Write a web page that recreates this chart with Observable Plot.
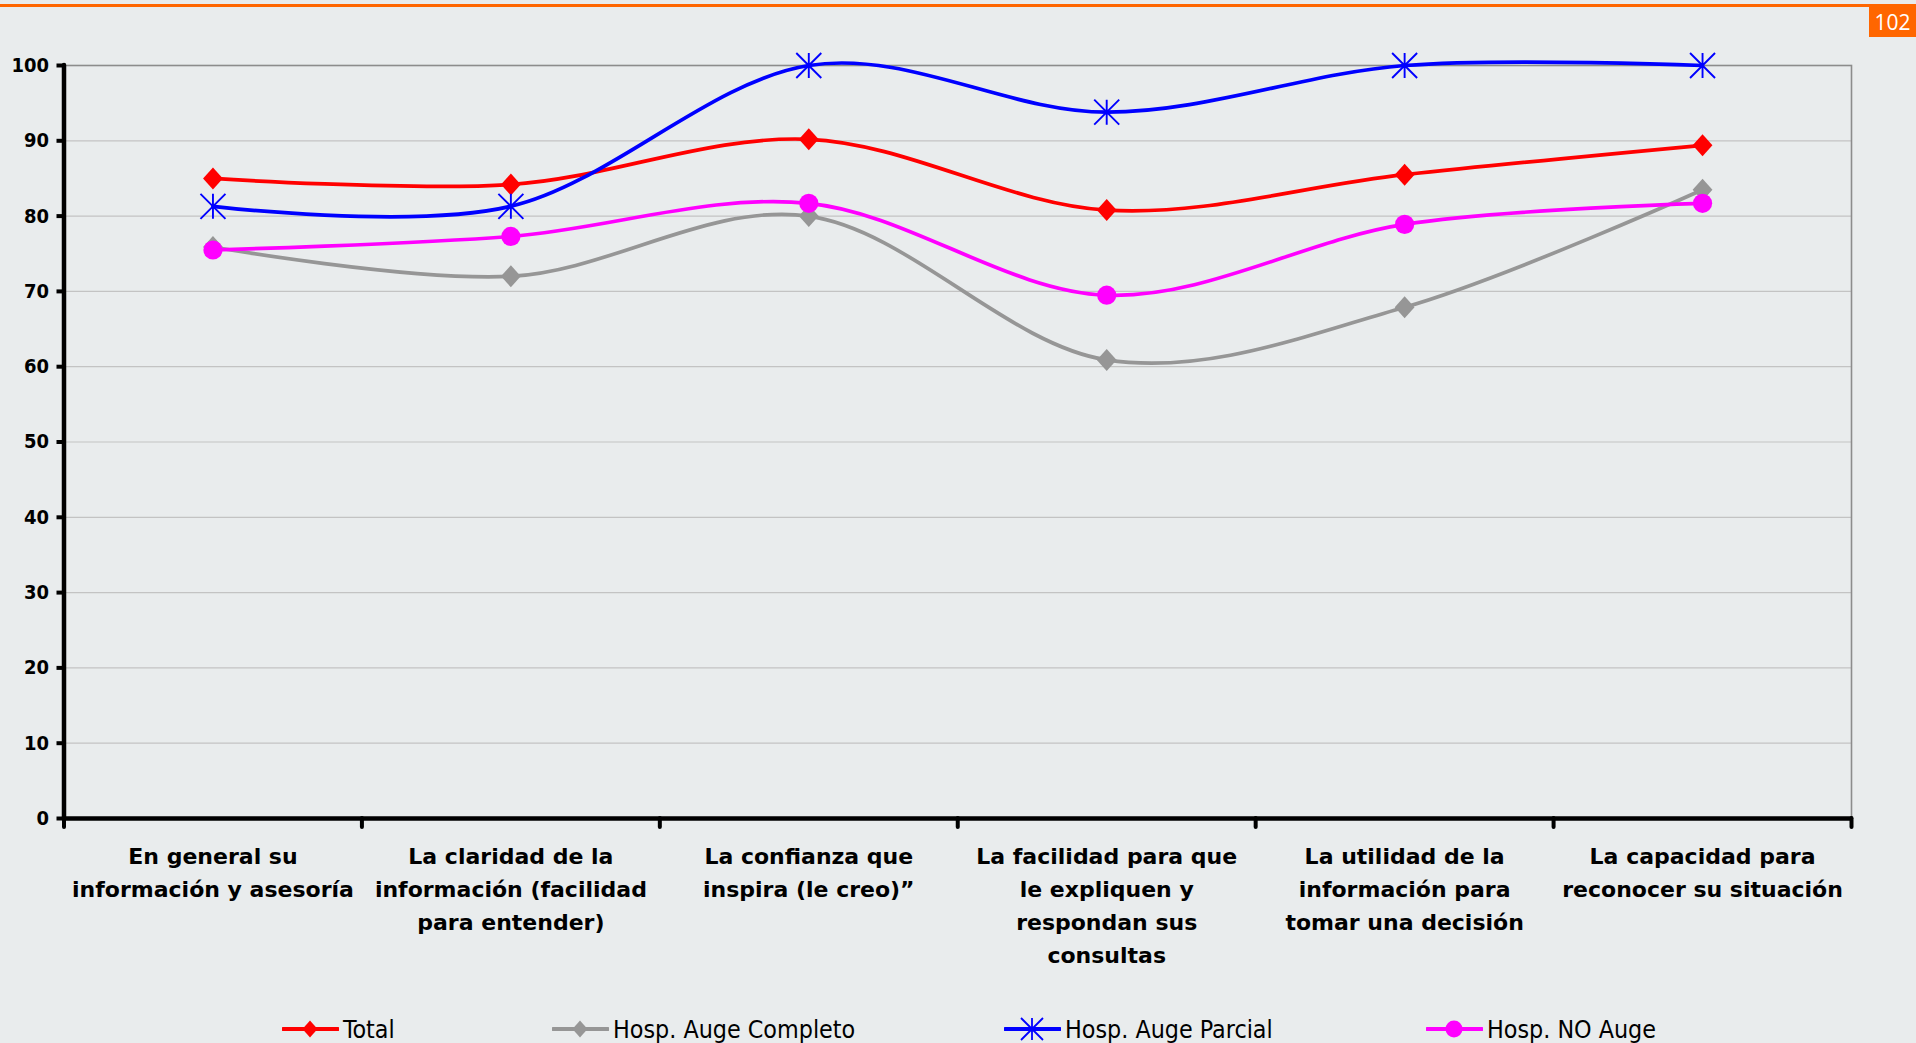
<!DOCTYPE html>
<html>
<head>
<meta charset="utf-8">
<script src="https://cdn.jsdelivr.net/npm/d3@7"></script>
<script src="https://cdn.jsdelivr.net/npm/@observablehq/plot@0.6"></script>
<style>
html, body { margin: 0; padding: 0; background: #e9eced; width: 1916px; height: 1043px; overflow: hidden; position: relative; font-family: "DejaVu Sans", sans-serif; }
#topbar { position: absolute; left: 0; top: 4px; width: 1916px; height: 3px; background: #ff6600; }
#page { position: absolute; left: 1869px; top: 7px; width: 47px; height: 30px; background: #ff6600; color: #fff; font: 21px "Open Sans", sans-serif; line-height: 30px; text-align: center; }
#chart { position: absolute; left: 0; top: 0; }
#legend { position: absolute; left: 0; top: 1014px; width: 1916px; height: 30px; }
.item { position: absolute; top: 0; display: flex; align-items: center; height: 30px; font: 24.8px "DejaVu Sans Condensed", "DejaVu Sans", sans-serif; color: #000; white-space: nowrap; }
.item svg { margin-right: 4px; flex: none; }
</style>
</head>
<body>
<div id="topbar"></div>
<div id="page">102</div>
<div id="chart"></div>
<div id="legend"></div>
<script>
// ---- data ----
const categories = [
  "En general su\ninformación y asesoría",
  "La claridad de la\ninformación (facilidad\npara entender)",
  "La confianza que\ninspira (le creo)”",
  "La facilidad para que\nle expliquen y\nrespondan sus\nconsultas",
  "La utilidad de la\ninformación para\ntomar una decisión",
  "La capacidad para\nreconocer su situación"
];
const seriesNames = ["Total", "Hosp. Auge Completo", "Hosp. Auge Parcial", "Hosp. NO Auge"];
const total        = [85.0, 84.2, 90.2, 80.8, 85.5, 89.4];
const augeCompleto = [75.9, 72.0, 80.0, 60.9, 67.9, 83.5];
const augeParcial  = [81.3, 81.3, 100.0, 93.8, 100.0, 100.0];
const noAuge       = [75.5, 77.3, 81.7, 69.5, 78.9, 81.7];
const yTicks = [0, 10, 20, 30, 40, 50, 60, 70, 80, 90, 100];

// ---- styling ----
const seriesColors = ["#ff0000", "#969696", "#0000ff", "#ff00ff"];
const seriesValues = [total, augeCompleto, augeParcial, noAuge];

const diamond = { draw(ctx, size) { const r = Math.sqrt(size / Math.PI); ctx.moveTo(0, -r); ctx.lineTo(r * 0.9, 0); ctx.lineTo(0, r); ctx.lineTo(-r * 0.9, 0); ctx.closePath(); } };
const star = { draw(ctx, size) { const r = Math.sqrt(size / Math.PI); ctx.moveTo(0, -r); ctx.lineTo(0, r); ctx.moveTo(-r, -r); ctx.lineTo(r, r); ctx.moveTo(r, -r); ctx.lineTo(-r, r); } };
const circle = { draw(ctx, size) { const r = Math.sqrt(size / Math.PI); ctx.moveTo(r, 0); ctx.arc(0, 0, r, 0, 2 * Math.PI); ctx.closePath(); } };
const markerDefs = [
  { symbol: diamond, r: 11, filled: true },
  { symbol: diamond, r: 11, filled: true },
  { symbol: star, r: 12.5, filled: false },
  { symbol: circle, r: 9.6, filled: true }
];

const rows = seriesNames.flatMap((s, k) => seriesValues[k].map((v, i) => ({ series: s, i, value: v })));
const xDomain = [-0.5, categories.length - 0.5];
const boundaries = d3.range(xDomain[0], xDomain[1] + 0.01, 1);

const seriesMarks = seriesNames.flatMap((s, k) => {
  const data = rows.filter(d => d.series === s);
  const m = markerDefs[k];
  return [
    Plot.line(data, { x: "i", y: "value", stroke: seriesColors[k], strokeWidth: 3.7, curve: "cardinal", tension: 0 }),
    Plot.dot(data, { x: "i", y: "value", symbol: m.symbol, r: m.r,
      fill: m.filled ? seriesColors[k] : "none",
      stroke: m.filled ? "none" : seriesColors[k], strokeWidth: m.filled ? 0 : 1.9 })
  ];
});

const chart = Plot.plot({
  width: 1916,
  height: 1000,
  marginLeft: 63.5,
  marginRight: 65,
  marginTop: 65,
  marginBottom: 182,
  style: { background: "transparent", fontFamily: "DejaVu Sans, sans-serif", color: "#000", overflow: "visible" },
  x: { domain: xDomain },
  y: { domain: [0, 100] },
  marks: [
    Plot.gridY(yTicks.filter(t => t > 0 && t < 100), { stroke: "#c3c3c3", strokeOpacity: 1, strokeWidth: 1.2 }),
    Plot.frame({ stroke: "#8c8c8c", strokeWidth: 1.6 }),
    Plot.axisY({ ticks: yTicks, tickSize: 7, tickPadding: 8, fontSize: 20, fontWeight: "bold", fontFamily: "DejaVu Sans Condensed, DejaVu Sans, sans-serif", strokeWidth: 4, label: null }),
    Plot.axisX({ ticks: boundaries, tickSize: 9, tickPadding: 0, tickFormat: () => "", strokeWidth: 4, strokeLinecap: "round", label: null }),
    Plot.axisX({ ticks: d3.range(categories.length), tickSize: 0, tickPadding: 22.5, tickFormat: i => categories[i],
      fontSize: 22, fontWeight: "bold", lineHeight: 1.5, label: null }),
    Plot.ruleX([xDomain[0]], { y1: yTicks[0], y2: yTicks[yTicks.length - 1], stroke: "#000", strokeWidth: 4.5, strokeLinecap: "round" }),
    Plot.ruleY([yTicks[0]], { x1: xDomain[0], x2: xDomain[1], stroke: "#000", strokeWidth: 4.5, strokeLinecap: "round" }),
    ...seriesMarks
  ]
});
document.getElementById("chart").appendChild(chart);

// ---- legend ----
const legendLeft = [282, 552, 1004, 1426];
const legend = document.getElementById("legend");
seriesNames.forEach((s, k) => {
  const item = document.createElement("div");
  item.className = "item";
  item.style.left = legendLeft[k] + "px";
  const c = seriesColors[k];
  let marker;
  if (k === 0 || k === 1) marker = `<path d="M28,6.5 L35.5,15 L28,23.5 L20.5,15 Z" fill="${c}"/>`;
  else if (k === 2) marker = `<path d="M28,4 L28,26 M17,4 L39,26 M39,4 L17,26" stroke="${c}" stroke-width="1.8" fill="none"/>`;
  else marker = `<circle cx="28" cy="15" r="8.5" fill="${c}"/>`;
  item.innerHTML = `<svg width="57" height="30" viewBox="0 0 57 30"><line x1="1" y1="15" x2="56" y2="15" stroke="${c}" stroke-width="4" stroke-linecap="round"/>${marker}</svg><span>${s}</span>`;
  legend.appendChild(item);
});
</script>
</body>
</html>
